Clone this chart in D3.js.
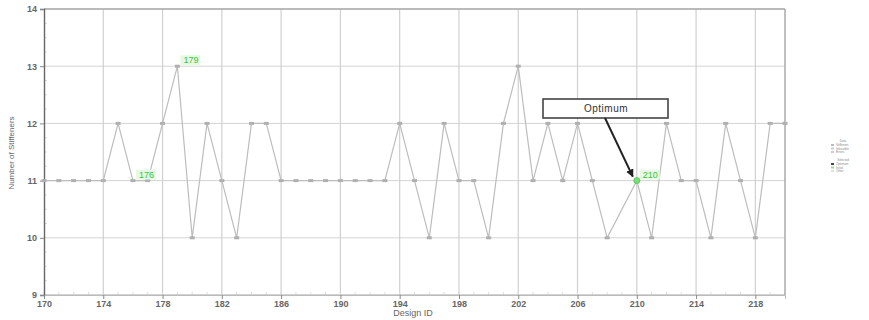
<!DOCTYPE html>
<html>
<head>
<meta charset="utf-8">
<script src="https://cdn.jsdelivr.net/npm/d3@7"></script>
<style>
  body { margin: 0; background: #fff; }
  svg { display: block; font-family: "Liberation Sans", Arial, sans-serif; }
</style>
</head>
<body>
<div id="chart"></div>
<script>
// design ids (209 has no result in the source)
const designIds = [170,171,172,173,174,175,176,177,178,179,180,181,182,183,184,185,186,187,188,189,
  190,191,192,193,194,195,196,197,198,199,200,201,202,203,204,205,206,207,208,210,211,212,213,214,
  215,216,217,218,219,220]
const stiffeners = [11,11,11,11,11,12,11,11,12,13,10,12,11,10,12,12,11,11,11,11,
  11,11,11,11,12,11,10,12,11,11,10,12,13,11,12,11,12,11,10,11,10,12,11,11,
  10,12,11,10,12,12]
const xTicks = [170,174,178,182,186,190,194,198,202,206,210,214,218]
const yTicks = [9,10,11,12,13,14]
const highlighted = [179, 176, 210]
const optimumId = 210

const width = 869, height = 320
const margin = {left: 44, right: 84, top: 9, bottom: 25}

const svg = d3.select('#chart').append('svg').attr('width', width).attr('height', height)

const x = d3.scaleLinear().domain([170, 220]).range([margin.left, width - margin.right])
const y = d3.scaleLinear().domain([9, 14]).range([height - margin.bottom, margin.top])

const points = designIds.map((id, i) => ({id: id, v: stiffeners[i]}))

//grid
svg.append('g').selectAll('line').data(yTicks).enter().append('line')
  .attr('x1', x(170)).attr('x2', x(220))
  .attr('y1', d => y(d)).attr('y2', d => y(d))
  .attr('stroke', '#d4d4d4').attr('stroke-width', 1)
svg.append('g').selectAll('line').data(xTicks.filter(d => d > 170)).enter().append('line')
  .attr('x1', d => x(d)).attr('x2', d => x(d))
  .attr('y1', y(9)).attr('y2', y(14))
  .attr('stroke', '#d0d0d0').attr('stroke-width', 1.2)

// minor ticks along bottom / left
svg.append('g').selectAll('line').data(d3.range(170, 221)).enter().append('line')
  .attr('x1', d => x(d)).attr('x2', d => x(d))
  .attr('y1', y(9)).attr('y2', y(9) - 3)
  .attr('stroke', '#ddd')
svg.append('g').selectAll('line').data(d3.range(9, 14.01, 0.25)).enter().append('line')
  .attr('x1', x(170)).attr('x2', x(170) + 3)
  .attr('y1', d => y(d)).attr('y2', d => y(d))
  .attr('stroke', '#ddd')

// frame
svg.append('line').attr('x1', x(170)).attr('x2', x(220)).attr('y1', y(14)).attr('y2', y(14))
  .attr('stroke', '#aaa').attr('stroke-width', 1.5)
svg.append('line').attr('x1', x(220)).attr('x2', x(220)).attr('y1', y(14)).attr('y2', y(9))
  .attr('stroke', '#aaa').attr('stroke-width', 1.5)
svg.append('line').attr('x1', x(170)).attr('x2', x(220)).attr('y1', y(9)).attr('y2', y(9))
  .attr('stroke', '#bbb').attr('stroke-width', 1.2)

// axes
const yAxis = d3.axisLeft(y).tickValues(yTicks).tickFormat(d3.format('d')).tickSize(4).tickPadding(3)
const xAxis = d3.axisBottom(x).tickValues(xTicks).tickFormat(d3.format('d')).tickSize(4).tickPadding(2)
const gy = svg.append('g').attr('transform', `translate(${x(170)},0)`).call(yAxis)
const gx = svg.append('g').attr('transform', `translate(0,${y(9)})`).call(xAxis)
gy.select('.domain').attr('stroke', '#666').attr('stroke-width', 1.4)
gx.select('.domain').attr('stroke', '#bbb')
gy.selectAll('.tick line').attr('stroke', '#888')
gx.selectAll('.tick line').attr('stroke', '#888')
gy.selectAll('text').attr('font-size', 9).attr('fill', '#666').attr('font-weight', 'bold')
gx.selectAll('text').attr('font-size', 9).attr('fill', '#666').attr('font-weight', 'bold')

svg.append('text').attr('x', 413).attr('y', 316).attr('text-anchor', 'middle')
  .attr('font-size', 9).attr('fill', '#666').text('Design ID')
svg.append('text').attr('transform', 'translate(14,' + 153 + ') rotate(-90)')
  .attr('text-anchor', 'middle').attr('font-size', 8).attr('fill', '#666').text('Number of Stiffeners')

// series line
const line = d3.line().x(d => x(d.id)).y(d => y(d.v))
svg.append('path').datum(points).attr('d', line)
  .attr('fill', 'none').attr('stroke', '#bdbdbd').attr('stroke-width', 1.2)

svg.append('g').selectAll('rect').data(points).enter().append('rect')
  .attr('x', d => x(d.id) - 2.5).attr('y', d => y(d.v) - 1.5)
  .attr('width', 5).attr('height', 3)
  .attr('fill', '#b0b0b0')

// highlighted designs
const hl = points.filter(d => highlighted.includes(d.id))
const lab = svg.append('g').selectAll('g').data(hl).enter().append('g')
  .attr('transform', d => `translate(${x(d.id) + 4},${y(d.v) - 6})`)
lab.append('rect').attr('x', -1).attr('y', -5).attr('width', 20).attr('height', 10)
  .attr('fill', '#e6f8e0').attr('opacity', 0.9)
lab.append('text').attr('x', 2).attr('y', 3).attr('font-size', 9)
  .attr('fill', '#3cc43c').text(d => d.id)
svg.append('g').selectAll('circle').data(hl.filter(d => d.id === optimumId)).enter().append('circle')
  .attr('cx', d => x(d.id)).attr('cy', d => y(d.v)).attr('r', 3)
  .attr('fill', '#7ddc7d').attr('stroke', '#4c4').attr('stroke-width', 0.8)

// optimum callout
const opt = points.find(d => d.id === optimumId)
svg.append('defs').append('marker').attr('id', 'arr').attr('viewBox', '0 0 10 10')
  .attr('refX', 9).attr('refY', 5).attr('markerWidth', 4).attr('markerHeight', 4)
  .attr('orient', 'auto')
  .append('path').attr('d', 'M0,0L10,5L0,10z').attr('fill', '#222')
svg.append('rect').attr('x', 543).attr('y', 99).attr('width', 125).attr('height', 19)
  .attr('fill', '#fff').attr('stroke', '#444').attr('stroke-width', 1.6)
svg.append('text').attr('x', 606).attr('y', 112).attr('text-anchor', 'middle')
  .attr('font-size', 10).attr('fill', '#333').attr('letter-spacing', 0.5).text('Optimum')
svg.append('line').attr('x1', 605).attr('y1', 118)
  .attr('x2', x(opt.id) - 4).attr('y2', y(opt.v) - 4)
  .attr('stroke', '#222').attr('stroke-width', 2).attr('marker-end', 'url(#arr)')

// tiny legend on the right
const legendGroups = [
  {title: 'Data', items: ['Stiffeners', 'Infeasible', 'Errors'], colors: ['#bbb', '#ccc', '#ccc']},
  {title: 'Selected', items: ['Optimum', 'Initial', 'Other'], colors: ['#444', '#9d9', '#cec']}
]
const lg = svg.append('g').attr('font-size', 3).attr('fill', '#888')
legendGroups.forEach((g, gi) => {
  const y0 = 142 + gi * 19
  lg.append('text').attr('x', 843).attr('y', y0).attr('text-anchor', 'middle').text(g.title)
  g.items.forEach((it, i) => {
    lg.append('rect').attr('x', 831).attr('y', y0 + 2 + i * 3.5).attr('width', 3).attr('height', 2)
      .attr('fill', g.colors[i])
    lg.append('text').attr('x', 836).attr('y', y0 + 4 + i * 3.5).text(it)
  })
})
</script>
</body>
</html>
